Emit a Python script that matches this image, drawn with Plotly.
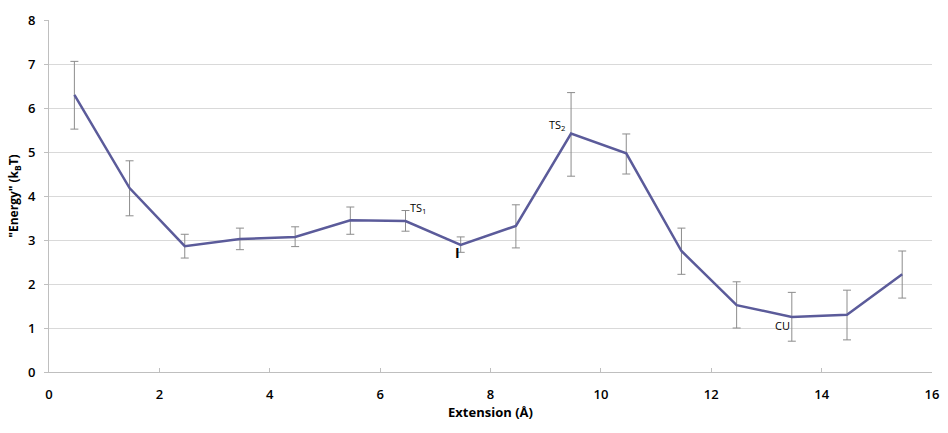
import plotly.graph_objects as go

# Extension (Å) and free-energy profile with error bounds
extension = [0.46, 1.46, 2.46, 3.46, 4.46, 5.46, 6.46, 7.46, 8.46, 9.46,
             10.46, 11.46, 12.46, 13.46, 14.46, 15.46]
energy = [6.30, 4.18, 2.86, 3.02, 3.07, 3.45, 3.43, 2.89, 3.32, 5.42,
          4.97, 2.75, 1.52, 1.25, 1.30, 2.22]
err_upper = [0.76, 0.62, 0.27, 0.25, 0.23, 0.30, 0.24, 0.18, 0.48, 0.93,
             0.44, 0.52, 0.53, 0.56, 0.56, 0.53]
err_lower = [0.78, 0.63, 0.27, 0.24, 0.22, 0.32, 0.23, 0.17, 0.50, 0.97,
             0.47, 0.53, 0.52, 0.55, 0.57, 0.54]

# State labels along the profile
labels = ["TS<sub>1</sub>", "<b>I</b>", "TS<sub>2</sub>", "CU"]
label_x = [6.7, 7.4, 9.22, 13.3]
label_y = [3.72, 2.72, 5.62, 1.05]
label_size = [11, 14, 11, 11]

FONT = "Open Sans, DejaVu Sans, sans-serif"

fig = go.Figure()
fig.add_trace(go.Scatter(
    x=extension, y=energy, mode="lines",
    line=dict(color="#5B5B9A", width=2.5),
    error_y=dict(type="data", symmetric=False, array=err_upper,
                 arrayminus=err_lower, color="#8C8C8C", thickness=1, width=4),
    showlegend=False,
))

for t, x, y, s in zip(labels, label_x, label_y, label_size):
    fig.add_annotation(x=x, y=y, text=t, showarrow=False,
                       font=dict(family=FONT, size=s, color="#000000"))

fig.update_layout(
    width=948, height=433,
    margin=dict(l=49, r=9, t=20, b=61),
    paper_bgcolor="white", plot_bgcolor="white",
    font=dict(family=FONT, size=13, color="#000000"),
    xaxis=dict(range=[0, 16], dtick=2, tick0=0, showgrid=False,
               showline=True, linecolor="#BFBFBF", linewidth=1,
               ticks="inside", tickcolor="#BFBFBF", ticklen=4,
               ticklabelstandoff=10, zeroline=False,
               tickfont=dict(family=FONT, size=13, weight=600),
               title=dict(text="<b>Extension (Å)</b>", standoff=5,
                          font=dict(family=FONT, size=13))),
    yaxis=dict(range=[0, 8], dtick=1, tick0=0, showgrid=True,
               gridcolor="#D9D9D9", gridwidth=1,
               showline=True, linecolor="#BFBFBF", linewidth=1,
               ticks="outside", tickcolor="#BFBFBF", ticklen=4,
               ticklabelstandoff=6, zeroline=False,
               tickfont=dict(family=FONT, size=13, weight=600),
               title=dict(text="<b>\"Energy\" (k<sub>B</sub>T)</b>", standoff=6,
                          font=dict(family=FONT, size=12))),
)

fig.write_html("out.html")
